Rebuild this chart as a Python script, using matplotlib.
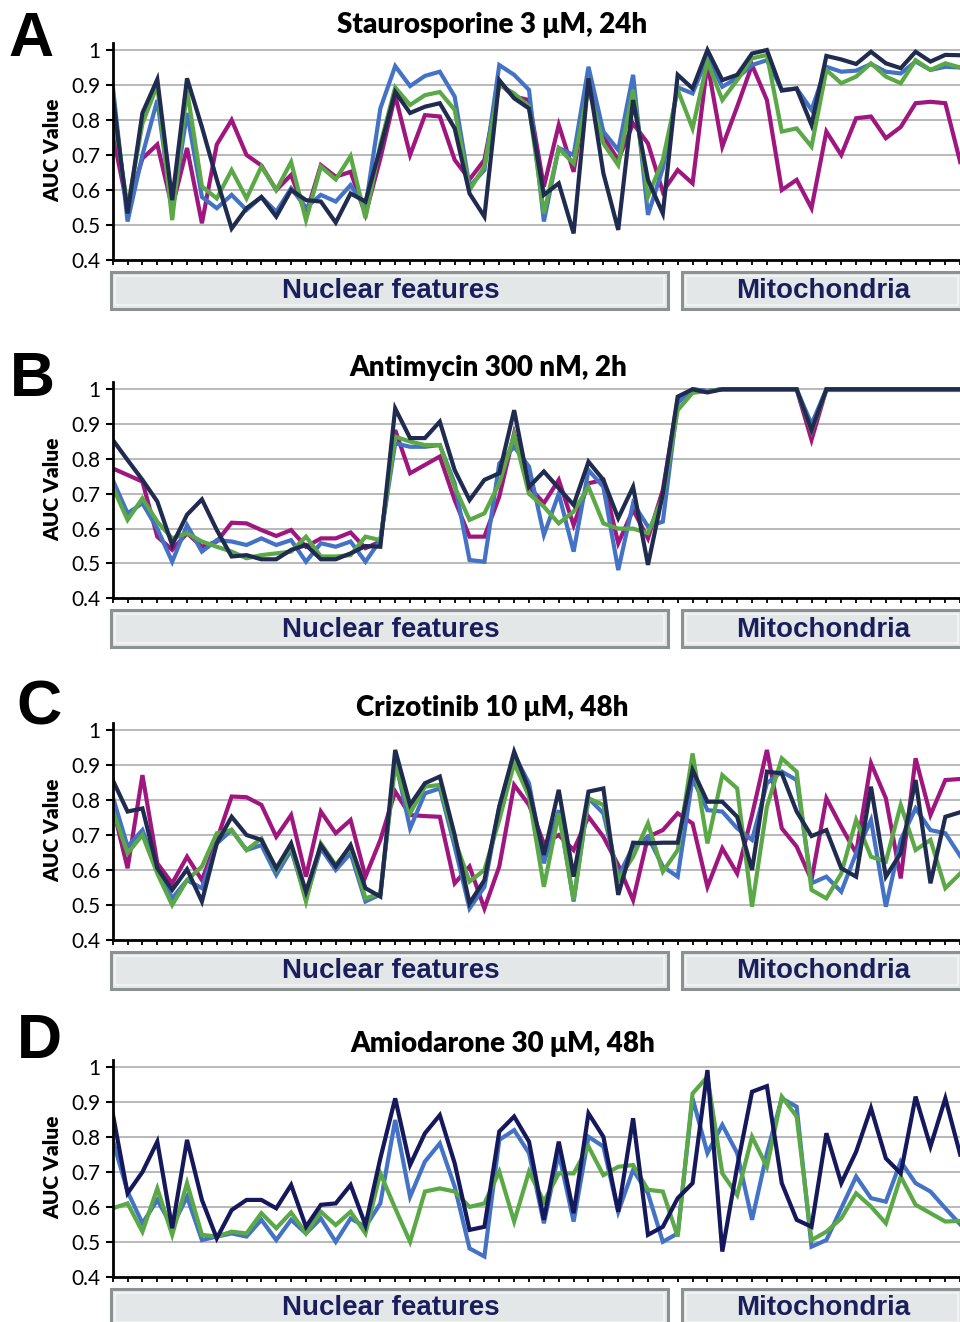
import matplotlib
matplotlib.use("Agg")
import matplotlib.pyplot as plt
from matplotlib.patches import Rectangle

W, H = 960, 1322

# index of each feature (58 per panel, the last one is cut by the right edge)
features = list(range(58))
n_nuclear = 38

titles = ["Staurosporine 3 \u03bcM, 24h", "Antimycin 300 nM, 2h",
          "Crizotinib 10 \u03bcM, 48h", "Amiodarone 30 \u03bcM, 48h"]
letters = ["A", "B", "C", "D"]
yticks = [0.4, 0.5, 0.6, 0.7, 0.8, 0.9, 1.0]
ytick_labels = ["0.4", "0.5", "0.6", "0.7", "0.8", "0.9", "1"]

# --- A: Staurosporine ---
a_magenta = [0.76, 0.55, 0.69, 0.73, 0.55, 0.72, 0.505, 0.73, 0.80, 0.70,
             0.67, 0.60, 0.643, 0.53, 0.671, 0.638, 0.652, 0.53, 0.69, 0.87,
             0.70, 0.814, 0.81, 0.686, 0.63, 0.686, 0.905, 0.867, 0.857, 0.61,
             0.786, 0.652, 0.91, 0.752, 0.686, 0.79, 0.733, 0.595, 0.657, 0.619,
             0.962, 0.724, 0.838, 0.957, 0.857, 0.60, 0.629, 0.548, 0.767, 0.70,
             0.805, 0.81, 0.748, 0.78, 0.848, 0.852, 0.848, 0.68]
a_blue = [0.90, 0.51, 0.70, 0.857, 0.54, 0.82, 0.58, 0.548, 0.586, 0.543,
          0.58, 0.538, 0.605, 0.55, 0.586, 0.567, 0.614, 0.55, 0.833, 0.954,
          0.897, 0.926, 0.938, 0.867, 0.61, 0.657, 0.957, 0.929, 0.886, 0.51,
          0.72, 0.70, 0.952, 0.767, 0.714, 0.929, 0.529, 0.662, 0.893, 0.876,
          0.98, 0.895, 0.92, 0.957, 0.971, 0.886, 0.89, 0.829, 0.952, 0.938,
          0.941, 0.96, 0.938, 0.933, 0.967, 0.943, 0.952, 0.95]
a_green = [0.84, 0.55, 0.79, 0.90, 0.514, 0.886, 0.61, 0.576, 0.657, 0.576,
           0.667, 0.60, 0.68, 0.514, 0.667, 0.63, 0.697, 0.52, 0.73, 0.893,
           0.843, 0.871, 0.88, 0.829, 0.60, 0.667, 0.90, 0.876, 0.838, 0.533,
           0.719, 0.676, 0.89, 0.733, 0.671, 0.886, 0.581, 0.686, 0.886, 0.776,
           0.967, 0.857, 0.914, 0.976, 0.986, 0.767, 0.776, 0.724, 0.943, 0.905,
           0.924, 0.962, 0.924, 0.905, 0.971, 0.943, 0.962, 0.95]
a_navy = [0.87, 0.533, 0.82, 0.916, 0.571, 0.919, 0.78, 0.63, 0.49, 0.548,
          0.58, 0.524, 0.60, 0.571, 0.567, 0.507, 0.59, 0.567, 0.72, 0.88,
          0.82, 0.838, 0.848, 0.776, 0.59, 0.524, 0.914, 0.862, 0.833, 0.586,
          0.619, 0.476, 0.919, 0.648, 0.486, 0.857, 0.629, 0.533, 0.929, 0.89,
          1.0, 0.914, 0.929, 0.99, 1.0, 0.884, 0.89, 0.786, 0.983, 0.973,
          0.96, 0.995, 0.962, 0.948, 0.995, 0.967, 0.986, 0.985]

# --- B: Antimycin ---
b_magenta = [0.773, 0.754, 0.735, 0.577, 0.539, 0.587, 0.548, 0.563, 0.617, 0.615,
             0.596, 0.579, 0.596, 0.548, 0.572, 0.572, 0.589, 0.544, 0.563, 0.883,
             0.759, 0.783, 0.807, 0.682, 0.577, 0.577, 0.692, 0.874, 0.72, 0.673,
             0.74, 0.61, 0.73, 0.74, 0.558, 0.654, 0.572, 0.711, 0.97, 1.0,
             0.995, 1.0, 1.0, 1.0, 1.0, 1.0, 1.0, 0.855, 1.0, 1.0,
             1.0, 1.0, 1.0, 1.0, 1.0, 1.0, 1.0, 1.0]
b_blue = [0.74, 0.644, 0.673, 0.60, 0.505, 0.61, 0.534, 0.567, 0.563, 0.553,
          0.572, 0.553, 0.567, 0.505, 0.558, 0.548, 0.563, 0.505, 0.567, 0.845,
          0.835, 0.835, 0.84, 0.73, 0.51, 0.505, 0.787, 0.835, 0.778, 0.582,
          0.70, 0.534, 0.768, 0.72, 0.481, 0.673, 0.606, 0.62, 0.96, 1.0,
          0.995, 1.0, 1.0, 1.0, 1.0, 1.0, 1.0, 0.90, 1.0, 1.0,
          1.0, 1.0, 1.0, 1.0, 1.0, 1.0, 1.0, 1.0]
b_green = [0.72, 0.625, 0.687, 0.62, 0.572, 0.587, 0.563, 0.548, 0.534, 0.515,
           0.524, 0.529, 0.534, 0.577, 0.52, 0.52, 0.524, 0.577, 0.567, 0.864,
           0.85, 0.84, 0.84, 0.72, 0.625, 0.644, 0.73, 0.869, 0.70, 0.663,
           0.615, 0.649, 0.72, 0.615, 0.60, 0.60, 0.587, 0.692, 0.94, 0.99,
           0.995, 1.0, 1.0, 1.0, 1.0, 1.0, 1.0, 0.88, 0.998, 0.998,
           0.998, 0.998, 0.998, 0.998, 0.998, 0.998, 0.998, 0.998]
b_navy = [0.855, 0.797, 0.74, 0.678, 0.553, 0.64, 0.684, 0.596, 0.52, 0.524,
          0.512, 0.512, 0.539, 0.553, 0.512, 0.512, 0.529, 0.55, 0.548, 0.945,
          0.86, 0.86, 0.907, 0.768, 0.682, 0.74, 0.759, 0.94, 0.72, 0.764,
          0.716, 0.668, 0.792, 0.74, 0.63, 0.72, 0.496, 0.70, 0.979, 1.0,
          0.991, 1.0, 1.0, 1.0, 1.0, 1.0, 1.0, 0.883, 1.0, 1.0,
          1.0, 1.0, 1.0, 1.0, 1.0, 1.0, 1.0, 1.0]

# --- C: Crizotinib ---
c_magenta = [0.781, 0.605, 0.871, 0.619, 0.562, 0.638, 0.571, 0.686, 0.81, 0.808,
             0.786, 0.695, 0.757, 0.581, 0.767, 0.705, 0.743, 0.581, 0.686, 0.824,
             0.757, 0.754, 0.752, 0.562, 0.61, 0.49, 0.61, 0.843, 0.786, 0.676,
             0.70, 0.657, 0.752, 0.695, 0.614, 0.514, 0.695, 0.714, 0.762, 0.733,
             0.552, 0.662, 0.59, 0.757, 0.943, 0.719, 0.667, 0.571, 0.805, 0.724,
             0.648, 0.905, 0.805, 0.576, 0.919, 0.757, 0.857, 0.86]
c_blue = [0.81, 0.667, 0.714, 0.60, 0.519, 0.571, 0.548, 0.676, 0.714, 0.657,
          0.671, 0.586, 0.657, 0.519, 0.662, 0.60, 0.648, 0.51, 0.53, 0.914,
          0.719, 0.819, 0.833, 0.667, 0.49, 0.552, 0.781, 0.929, 0.848, 0.619,
          0.771, 0.51, 0.805, 0.762, 0.581, 0.667, 0.695, 0.61, 0.581, 0.862,
          0.771, 0.767, 0.719, 0.686, 0.848, 0.881, 0.857, 0.562, 0.581, 0.538,
          0.648, 0.743, 0.495, 0.686, 0.776, 0.714, 0.705, 0.64]
c_green = [0.771, 0.648, 0.70, 0.59, 0.50, 0.571, 0.61, 0.705, 0.714, 0.657,
           0.69, 0.60, 0.667, 0.51, 0.676, 0.614, 0.667, 0.519, 0.533, 0.90,
           0.762, 0.838, 0.843, 0.686, 0.567, 0.60, 0.743, 0.905, 0.81, 0.552,
           0.762, 0.514, 0.805, 0.786, 0.571, 0.638, 0.733, 0.595, 0.657, 0.933,
           0.676, 0.871, 0.833, 0.495, 0.781, 0.919, 0.881, 0.543, 0.519, 0.59,
           0.743, 0.638, 0.624, 0.786, 0.657, 0.686, 0.548, 0.59]
c_navy = [0.857, 0.767, 0.776, 0.605, 0.543, 0.602, 0.51, 0.676, 0.752, 0.70,
          0.686, 0.605, 0.676, 0.538, 0.671, 0.61, 0.671, 0.548, 0.524, 0.943,
          0.786, 0.848, 0.867, 0.70, 0.505, 0.571, 0.781, 0.938, 0.829, 0.643,
          0.829, 0.581, 0.824, 0.833, 0.529, 0.678, 0.676, 0.678, 0.678, 0.886,
          0.795, 0.795, 0.752, 0.60, 0.881, 0.876, 0.767, 0.697, 0.714, 0.605,
          0.581, 0.838, 0.581, 0.648, 0.857, 0.562, 0.752, 0.765]

# --- D: Amiodarone (no magenta series) ---
d_blue = [0.792, 0.644, 0.553, 0.62, 0.543, 0.629, 0.505, 0.515, 0.524, 0.515,
          0.563, 0.505, 0.563, 0.524, 0.567, 0.50, 0.567, 0.543, 0.61, 0.849,
          0.629, 0.73, 0.782, 0.658, 0.481, 0.458, 0.792, 0.82, 0.754, 0.553,
          0.754, 0.558, 0.801, 0.773, 0.586, 0.706, 0.639, 0.50, 0.524, 0.911,
          0.754, 0.835, 0.754, 0.563, 0.754, 0.911, 0.887, 0.486, 0.505, 0.596,
          0.687, 0.625, 0.615, 0.73, 0.668, 0.644, 0.596, 0.55]
d_green = [0.596, 0.61, 0.529, 0.653, 0.52, 0.668, 0.52, 0.515, 0.529, 0.524,
           0.582, 0.539, 0.584, 0.524, 0.586, 0.548, 0.586, 0.524, 0.696, 0.596,
           0.50, 0.644, 0.653, 0.644, 0.60, 0.61, 0.701, 0.558, 0.701, 0.615,
           0.696, 0.696, 0.773, 0.691, 0.715, 0.72, 0.649, 0.644, 0.515, 0.925,
           0.973, 0.696, 0.634, 0.801, 0.715, 0.916, 0.859, 0.505, 0.529, 0.567,
           0.639, 0.601, 0.553, 0.687, 0.606, 0.582, 0.558, 0.56]
d_navy = [0.868, 0.639, 0.70, 0.787, 0.539, 0.792, 0.62, 0.51, 0.591, 0.62,
          0.62, 0.596, 0.663, 0.543, 0.606, 0.61, 0.663, 0.548, 0.739, 0.911,
          0.72, 0.811, 0.863, 0.725, 0.534, 0.543, 0.816, 0.859, 0.787, 0.563,
          0.787, 0.582, 0.868, 0.801, 0.586, 0.854, 0.52, 0.543, 0.625, 0.668,
          0.992, 0.472, 0.715, 0.93, 0.946, 0.668, 0.563, 0.543, 0.811, 0.668,
          0.758, 0.883, 0.739, 0.696, 0.916, 0.773, 0.911, 0.75]

MAGENTA = "#A0167F"
BLUE = "#4472C4"
GREEN = "#5BA847"
NAVY = "#1F2B4F"
NAVY_D = "#15185A"

panels = [
    [(a_magenta, MAGENTA), (a_blue, BLUE), (a_green, GREEN), (a_navy, NAVY)],
    [(b_magenta, MAGENTA), (b_blue, BLUE), (b_green, GREEN), (b_navy, NAVY)],
    [(c_magenta, MAGENTA), (c_blue, BLUE), (c_green, GREEN), (c_navy, NAVY)],
    [(d_blue, BLUE), (d_green, GREEN), (d_navy, NAVY_D)],
]

# pixel y of the 1.0 and 0.4 gridlines in each panel
y_one = [50, 389.3, 730, 1067.3]
y_low = [260, 598.3, 940, 1276.7]
title_x = [492, 488, 492, 503]
title_y = [25, 368, 708, 1044]
letter_xy = [(31, 40), (32, 380), (39, 708), (39, 1042)]

x0_px, step_px = 112.7, 15.0
xmax = 56.5

fig = plt.figure(figsize=(W / 100, H / 100), dpi=100)
tf = fig.transFigure


def fx(px):
    return px / W


def fy(py):
    return 1 - py / H


for k in range(4):
    y1, y4 = y_one[k], y_low[k]
    per = (y4 - y1) / 0.6
    top = y1 - 0.02 * per
    ax = fig.add_axes([fx(x0_px), fy(y4), xmax * step_px / W, (y4 - top) / H])
    for vals, col in panels[k]:
        ax.plot(features, vals, color=col, lw=3.0, solid_joinstyle="miter")
    ax.set_xlim(0, xmax)
    ax.set_ylim(0.4, 1.02)
    ax.set_xticks(features)
    ax.set_xticklabels([])
    ax.set_yticks(yticks)
    ax.set_yticklabels(ytick_labels, fontfamily="Lato", fontsize=15)
    ax.tick_params(axis="x", direction="out", length=3.5, width=1.3)
    ax.tick_params(axis="y", direction="out", length=5, width=1.5, pad=4)
    for g in yticks[1:]:
        ax.axhline(g, color="#B3B3B3", lw=1.3, zorder=0)
    ax.spines["top"].set_visible(False)
    ax.spines["right"].set_visible(False)
    ax.spines["left"].set_linewidth(2)
    ax.spines["bottom"].set_linewidth(2)

    fig.text(fx(title_x[k]), fy(title_y[k]), titles[k], ha="center", va="center",
             fontfamily="Lato", fontweight="heavy", fontsize=20)
    fig.text(fx(letter_xy[k][0]), fy(letter_xy[k][1]), letters[k], ha="center",
             va="center", fontfamily="Liberation Sans", fontweight="bold", fontsize=45)
    fig.text(fx(53), fy((y1 + y4) / 2 - 5), "AUC Value", rotation=90, ha="center",
             va="center", fontfamily="Lato", fontweight="heavy", fontsize=15)

    # category boxes under the axis
    btop = y4 + 12
    bh = 37
    for (bx0, bx1, label) in [(111, 668, "Nuclear features"),
                              (682, 962, "Mitochondria")]:
        fig.patches.append(Rectangle((fx(bx0), fy(btop + bh)), fx(bx1 - bx0), bh / H,
                                     transform=tf, facecolor="#E4E7E7",
                                     edgecolor="#8C9192", lw=2.2))
        fig.patches.append(Rectangle((fx(bx0 + 4), fy(btop + bh - 4)),
                                     fx(bx1 - bx0 - 8), (bh - 8) / H,
                                     transform=tf, facecolor="none",
                                     edgecolor="#F4F6F6", lw=1.2))
        fig.text(fx((bx0 + bx1) / 2 + 1), fy(btop + bh / 2 + 1), label,
                 ha="center", va="center", fontfamily="Liberation Sans",
                 fontweight="bold", fontsize=20, color="#1B1E5C")

fig.savefig("out.png", dpi=100)
